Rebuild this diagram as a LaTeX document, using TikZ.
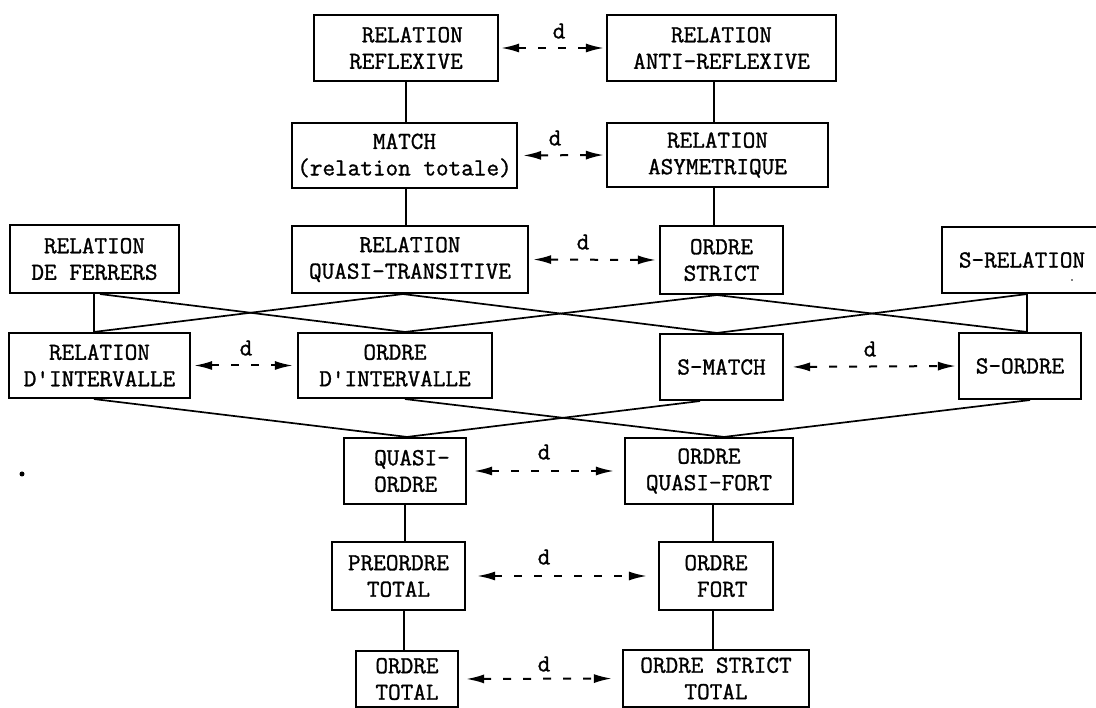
\documentclass[tikz,border=0pt]{standalone}
\usepackage{fontspec}
\newfontfamily\tw{Latin Modern Mono}[FakeBold=1.2]
\usetikzlibrary{arrows.meta}
\newcommand{\apos}{\textquotesingle}
\tikzset{
  box/.style={draw, line width=2.1pt, inner sep=0pt, align=center,
    font=\tw\fontsize{24.5}{26.5}\selectfont},
  link/.style={line width=1.7pt},
  darr/.style={line width=2pt, dash pattern=on 8pt off 12pt,
    {Latex[length=18pt,width=9pt]}-{Latex[length=18pt,width=9pt]}},
  dlab/.style={inner sep=0pt, font=\tw\fontsize{24.5}{26.5}\selectfont},
}
\begin{document}
\begin{tikzpicture}[x=1pt,y=-1pt]
\useasboundingbox (0,0) rectangle (1096,708);
\clip (0,0) rectangle (1096,708);
% boxes
\node[box, minimum width=184pt, minimum height=66pt, align=right] (refl) at (406,48) {RELATION\\REFLEXIVE};
\node[box, minimum width=229pt, minimum height=66pt] (anti) at (721.5,48) {RELATION\\ANTI-REFLEXIVE};
\node[box, minimum width=225pt, minimum height=65pt] (match) at (404.5,155.5) {MATCH\\(relation totale)};
\node[box, minimum width=221pt, minimum height=64pt] (asym) at (717.5,155) {RELATION\\ASYMETRIQUE};
\node[box, minimum width=169pt, minimum height=68pt] (ferrers) at (94.5,259) {RELATION\\DE FERRERS};
\node[box, minimum width=236pt, minimum height=67pt] (qt) at (410,259.5) {RELATION\\QUASI-TRANSITIVE};
\node[box, minimum width=123pt, minimum height=68pt] (ostrict) at (721.5,260) {ORDRE\\STRICT};
\node[box, minimum width=160pt, minimum height=66pt] (srel) at (1022,260) {S-RELATION};
\node[box, minimum width=181pt, minimum height=65pt] (dint) at (99.5,365.5) {RELATION\\D\apos INTERVALLE};
\node[box, minimum width=194pt, minimum height=65pt] (oint) at (395,365.5) {ORDRE\\D\apos INTERVALLE};
\node[box, minimum width=123pt, minimum height=66pt] (smatch) at (721.5,367) {S-MATCH};
\node[box, minimum width=122pt, minimum height=66pt] (sordre) at (1020,366) {S-ORDRE};
\node[box, minimum width=122pt, minimum height=66pt, align=left] (qo) at (405,471) {\hspace*{14pt}QUASI-\\\hspace*{14pt}ORDRE};
\node[box, minimum width=168pt, minimum height=66pt] (qf) at (709,471) {ORDRE\\QUASI-FORT};
\node[box, minimum width=133pt, minimum height=68pt] (pt) at (398.5,576) {PREORDRE\\TOTAL};
\node[box, minimum width=114pt, minimum height=68pt, align=right] (of) at (716,576) {ORDRE\\FORT};
\node[box, minimum width=102pt, minimum height=56pt] (ot) at (407,679) {ORDRE\\TOTAL};
\node[box, minimum width=186pt, minimum height=57pt] (ost) at (716,678.5) {ORDRE STRICT\\TOTAL};
% hasse links
\draw[link] (refl.south -| 406,0) -- (match.north -| 406,0);
\draw[link] (match.south -| 406,0) -- (qt.north -| 406,0);
\draw[link] (anti.south -| 714,0) -- (asym.north -| 714,0);
\draw[link] (asym.south -| 714,0) -- (ostrict.north -| 714,0);
\draw[link] (ferrers.south -| 94,0) -- (dint.north -| 94,0);
\draw[link] (ferrers.south -| 100,0) -- (oint.north -| 405,0);
\draw[link] (qt.south -| 403,0) -- (dint.north -| 94,0);
\draw[link] (qt.south -| 403,0) -- (smatch.north -| 717,0);
\draw[link] (ostrict.south -| 717,0) -- (oint.north -| 405,0);
\draw[link] (ostrict.south -| 717,0) -- (sordre.north -| 1027,0);
\draw[link] (srel.south -| 1027,0) -- (sordre.north -| 1027,0);
\draw[link] (srel.south -| 1027,0) -- (smatch.north -| 717,0);
\draw[link] (dint.south -| 94,0) -- (qo.north -| 407,0);
\draw[link] (smatch.south -| 700,0) -- (qo.north -| 407,0);
\draw[link] (oint.south -| 405,0) -- (qf.north -| 724,0);
\draw[link] (sordre.south -| 1030,0) -- (qf.north -| 724,0);
\draw[link] (qo.south -| 405,0) -- (pt.north -| 405,0);
\draw[link] (qf.south -| 713,0) -- (of.north -| 713,0);
\draw[link] (pt.south -| 404,0) -- (ot.north -| 404,0);
\draw[link] (of.south -| 713,0) -- (ost.north -| 713,0);
% duality arrows
\draw[darr, shorten <=2pt, shorten >=2pt] (refl.east) -- (anti.west);
\draw[darr, shorten <=5pt, shorten >=2pt] (match.east) -- (asym.west);
\draw[darr, shorten <=4pt, shorten >=3pt] (qt.east) -- (ostrict.west);
\draw[darr, shorten <=3pt, shorten >=4pt] (dint.east) -- (oint.west);
\draw[darr, shorten <=8pt, shorten >=2pt] (smatch.east) -- (sordre.west);
\draw[darr, shorten <=7pt, shorten >=10pt] (qo.east) -- (qf.west);
\draw[darr, shorten <=11pt, shorten >=11pt] (pt.east) -- (of.west);
\draw[darr, shorten <=7pt, shorten >=10pt] (ot.east) -- (ost.west);
% labels
\node[dlab] (d1) at (559,31) {d};
\node[dlab] (d2) at (555,138) {d};
\node[dlab] (d3) at (583,242) {d};
\node[dlab] (d4) at (246,348) {d};
\node[dlab] (d5) at (870,349) {d};
\node[dlab] (d6) at (544,452) {d};
\node[dlab] (d7) at (544,557) {d};
\node[dlab] (d8) at (544,664) {d};
% specks
\fill (22,474) circle (2.5pt);
\fill (1072,280) circle (0.8pt);
\end{tikzpicture}
\end{document}
